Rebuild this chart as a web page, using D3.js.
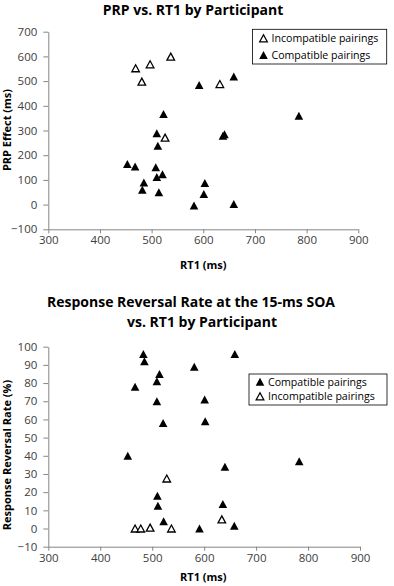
<!DOCTYPE html>
<html>
<head>
<meta charset="utf-8">
<script src="https://cdn.jsdelivr.net/npm/d3@7"></script>
<style>
  body { margin: 0; background: #fff; }
  text { font-family: "Open Sans", sans-serif; }
</style>
</head>
<body>
<div id="chart"></div>
<script>
// RT1 (ms) vs PRP effect (ms), one point per participant
const prpCompatible = [
  [453, 164], [468, 154], [482, 60], [485, 89], [508, 151], [510, 112],
  [510, 289], [512, 238], [514, 50], [521, 123], [523, 367], [582, -4],
  [592, 484], [601, 43], [603, 87], [638, 279], [641, 285], [659, 519],
  [659, 2], [785, 360]
];
const prpIncompatible = [
  [469, 552], [481, 498], [497, 568], [526, 271], [537, 599], [632, 488]
];

// RT1 (ms) vs response reversal rate (%) at 15-ms SOA
const rrCompatible = [
  [453, 40], [467, 78], [483, 96], [485, 92], [509, 81], [509, 70],
  [510, 18], [511, 12.5], [514, 85], [521, 58], [522, 4], [581, 89],
  [591, 0], [601, 71], [602, 59], [636, 13.5], [640, 34], [658, 1.5],
  [659, 96], [783, 37]
];
const rrIncompatible = [
  [467, 0], [478, 0], [496, 0.5], [528, 27.5], [537, 0], [634, 5]
];

const rtTicks = [300, 400, 500, 600, 700, 800, 900];
const prpTicks = [-100, 0, 100, 200, 300, 400, 500, 600, 700];
const rrTicks = [-10, 0, 10, 20, 30, 40, 50, 60, 70, 80, 90, 100];

const width = 394, height = 586;
const axisColor = "#868686", tickText = "#404040";

const svg = d3.select("#chart").append("svg")
  .attr("width", width).attr("height", height)
  .attr("viewBox", [0, 0, width, height]);

// triangle centred on its bounding box, like the spreadsheet marker
function tri(w, h) {
  return `M0,${-h / 2}L${w / 2},${h / 2}L${-w / 2},${h / 2}Z`;
}

function panel(opt) {
  let x = d3.scaleLinear().domain([300, 900]).range([opt.left, opt.right]);
  let y = d3.scaleLinear().domain(opt.yDomain).range([opt.bottom, opt.top]);
  let g = svg.append("g");

  opt.title.forEach(t => {
    g.append("text")
      .attr("x", t.x).attr("y", t.y)
      .attr("text-anchor", "middle")
      .attr("font-weight", "bold")
      .attr("font-size", 14)
      .text(t.text);
  });

  let xAxis = g.append("g")
    .attr("transform", `translate(0,${opt.bottom})`)
    .call(d3.axisBottom(x).tickValues(rtTicks).tickSize(4).tickPadding(3).tickSizeOuter(0));
  let yAxis = g.append("g")
    .attr("transform", `translate(${opt.left},0)`)
    .call(d3.axisLeft(y).tickValues(opt.yTicks).tickSize(5).tickPadding(6).tickSizeOuter(0));

  [xAxis, yAxis].forEach(a => {
    a.select(".domain").attr("stroke", axisColor);
    a.selectAll(".tick line").attr("stroke", axisColor);
    a.selectAll(".tick text")
      .attr("fill", tickText)
      .attr("font-size", 11.5)
      .attr("font-family", "Open Sans, sans-serif");
  });

  g.append("text")
    .attr("x", 203.3).attr("y", opt.xLabelY)
    .attr("text-anchor", "middle")
    .attr("font-weight", "bold").attr("font-size", 11)
    .text("RT1 (ms)");

  g.append("text")
    .attr("transform", `translate(10.5,${opt.yLabelMid}) rotate(-90)`)
    .attr("text-anchor", "middle")
    .attr("font-weight", "bold").attr("font-size", 11)
    .text(opt.yLabel);

  // points
  g.append("g").selectAll("path")
    .data(opt.compatible)
    .join("path")
    .attr("transform", d => `translate(${x(d[0])},${y(d[1])})`)
    .attr("d", tri(8.6, 8))
    .attr("fill", "#000");

  g.append("g").selectAll("path")
    .data(opt.incompatible)
    .join("path")
    .attr("transform", d => `translate(${x(d[0])},${y(d[1])})`)
    .attr("d", tri(7.6, 7))
    .attr("fill", "#fff")
    .attr("stroke", "#000")
    .attr("stroke-width", 1.3);

  // legend
  let lg = g.append("g");
  lg.append("rect")
    .attr("x", opt.legend.x).attr("y", opt.legend.y)
    .attr("width", opt.legend.w).attr("height", opt.legend.h)
    .attr("fill", "#fff").attr("stroke", "#000").attr("stroke-width", 0.8);
  opt.legend.items.forEach((it, i) => {
    let by = opt.legend.rows[i];
    let marker = lg.append("path")
      .attr("transform", `translate(${opt.legend.x + 11},${by - 4})`);
    if (it.filled) {
      marker.attr("d", tri(8.6, 8)).attr("fill", "#000");
    } else {
      marker.attr("d", tri(7.6, 7)).attr("fill", "#fff")
        .attr("stroke", "#000").attr("stroke-width", 1.3);
    }
    lg.append("text")
      .attr("x", opt.legend.x + 19).attr("y", by)
      .attr("font-size", 10.6)
      .text(it.label);
  });
}

panel({
  title: [{ text: "PRP vs. RT1 by Participant", x: 193, y: 14.5 }],
  left: 48.3, right: 358.3, top: 31.7, bottom: 229.3,
  yDomain: [-100, 700], yTicks: prpTicks,
  xLabelY: 268.5, yLabel: "PRP Effect (ms)", yLabelMid: 130,
  compatible: prpCompatible, incompatible: prpIncompatible,
  legend: {
    x: 252.5, y: 29.3, w: 134.2, h: 34.7, rows: [42.3, 59],
    items: [
      { label: "Incompatible pairings", filled: false },
      { label: "Compatible pairings", filled: true }
    ]
  }
});

panel({
  title: [
    { text: "Response Reversal Rate at the 15-ms SOA", x: 191, y: 307 },
    { text: "vs. RT1 by Participant", x: 202, y: 327 }
  ],
  left: 48.3, right: 360, top: 346.7, bottom: 546.7,
  yDomain: [-10, 100], yTicks: rrTicks,
  xLabelY: 580.7, yLabel: "Response Reversal Rate (%)", yLabelMid: 455,
  compatible: rrCompatible, incompatible: rrIncompatible,
  legend: {
    x: 249, y: 374, w: 138, h: 31, rows: [385.7, 400.3],
    items: [
      { label: "Compatible pairings", filled: true },
      { label: "Incompatible pairings", filled: false }
    ]
  }
});
</script>
</body>
</html>
